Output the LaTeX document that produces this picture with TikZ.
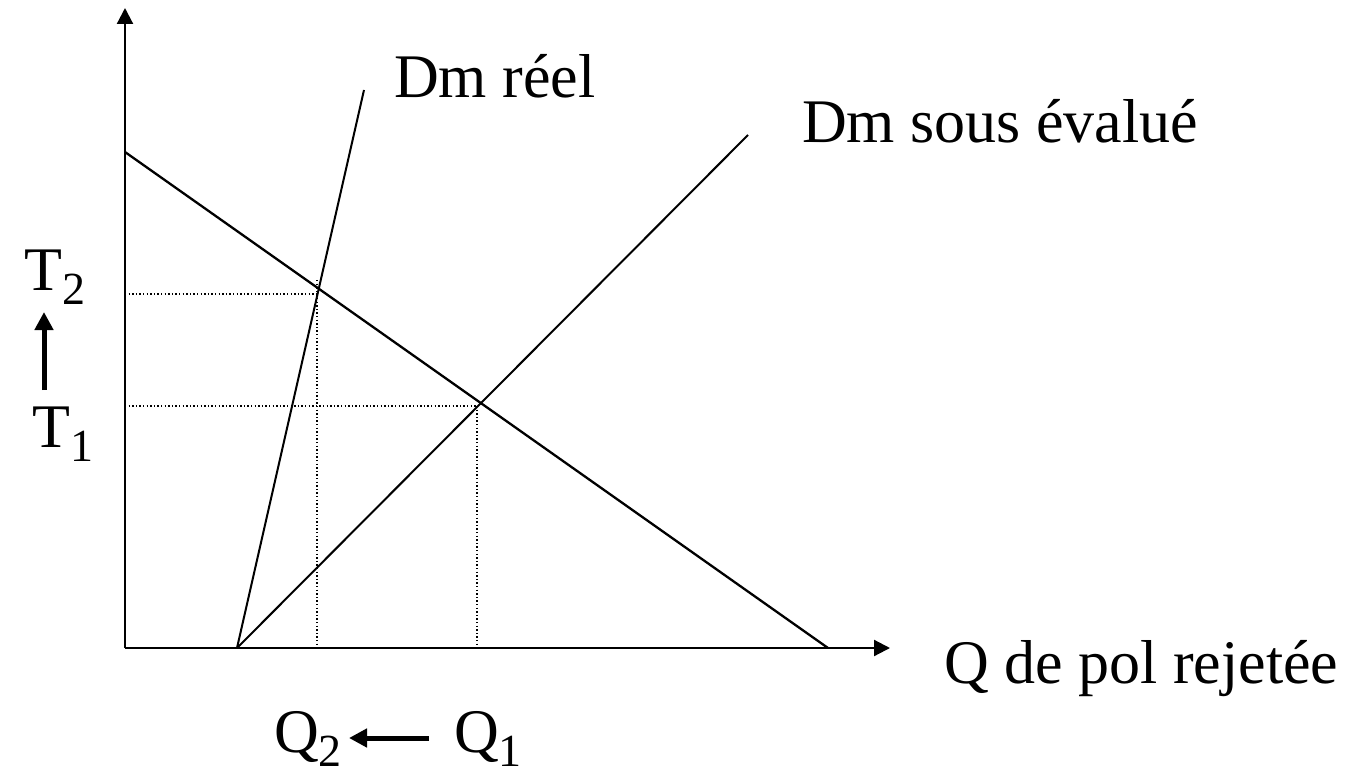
\documentclass[tikz,border=0pt]{standalone}
\usepackage{fontspec}
\setmainfont{Liberation Serif}
\usetikzlibrary{arrows.meta}
\newcommand{\bigtxt}{\fontsize{62}{70}\selectfont}
\newcommand{\subtxt}[1]{\raisebox{-14pt}{\fontsize{46}{46}\selectfont #1}}
\tikzset{
  axis/.style={line width=2.2pt, -{Triangle[width=16pt,length=16pt]}},
  curve/.style={line width=2.3pt},
  guide/.style={line width=1.4pt, dash pattern=on 1.4pt off 2.2pt},
  move/.style={line width=5pt, -{Triangle[width=18pt,length=18pt]}},
  lbl/.style={inner sep=0pt, font=\bigtxt, anchor=base west}
}
\begin{document}
\begin{tikzpicture}[x=1pt,y=-1pt]
\useasboundingbox (0,0) rectangle (1360,768);
% axes
\coordinate (O) at (125,648);
\coordinate (ytop) at (125,8);
\coordinate (xend) at (890,648);
\draw[axis] (O) -- (ytop);
\draw[axis] (O) -- (xend);
% demand line
\coordinate (d1) at (125,152);
\coordinate (d2) at (828,648);
\draw[curve] (d1) -- (d2);
% Dm lines
\coordinate (base) at (237,648);
\coordinate (reel) at (364,90);
\coordinate (sous) at (748,135);
\draw[curve, line width=2pt] (base) -- (reel);
\draw[curve, line width=2pt] (base) -- (sous);
% guide lines
\coordinate (p2) at (317,294);
\coordinate (p1) at (477,406);
\coordinate (ay2) at (125,294);
\coordinate (ay1) at (125,406);
\coordinate (ax2) at (317,648);
\coordinate (ax1) at (477,648);
\coordinate (v2) at (317,280);
\draw[guide] (ay2) -- (p2);
\draw[guide] (v2) -- (ax2);
\draw[guide] (ay1) -- (p1);
\draw[guide] (p1) -- (ax1);
% labels
\node[lbl] (lreel) at (394,97) {Dm réel};
\node[lbl] (lsous) at (802,142) {Dm sous évalué};
\node[lbl] (lq) at (944,683) {Q de pol rejetée};
\node[lbl] (t2) at (24,290) {T\subtxt{2}};
\node[lbl] (t1) at (32,447) {T\subtxt{1}};
\node[lbl] (q2) at (274,752) {Q\subtxt{2}};
\node[lbl] (q1) at (454,752) {Q\subtxt{1}};
% movement arrows
\coordinate (ta) at (44,390);
\coordinate (tb) at (44,312);
\coordinate (qa) at (429,738);
\coordinate (qb) at (349,738);
\draw[move] (ta) -- (tb);
\draw[move] (qa) -- (qb);
\end{tikzpicture}
\end{document}
